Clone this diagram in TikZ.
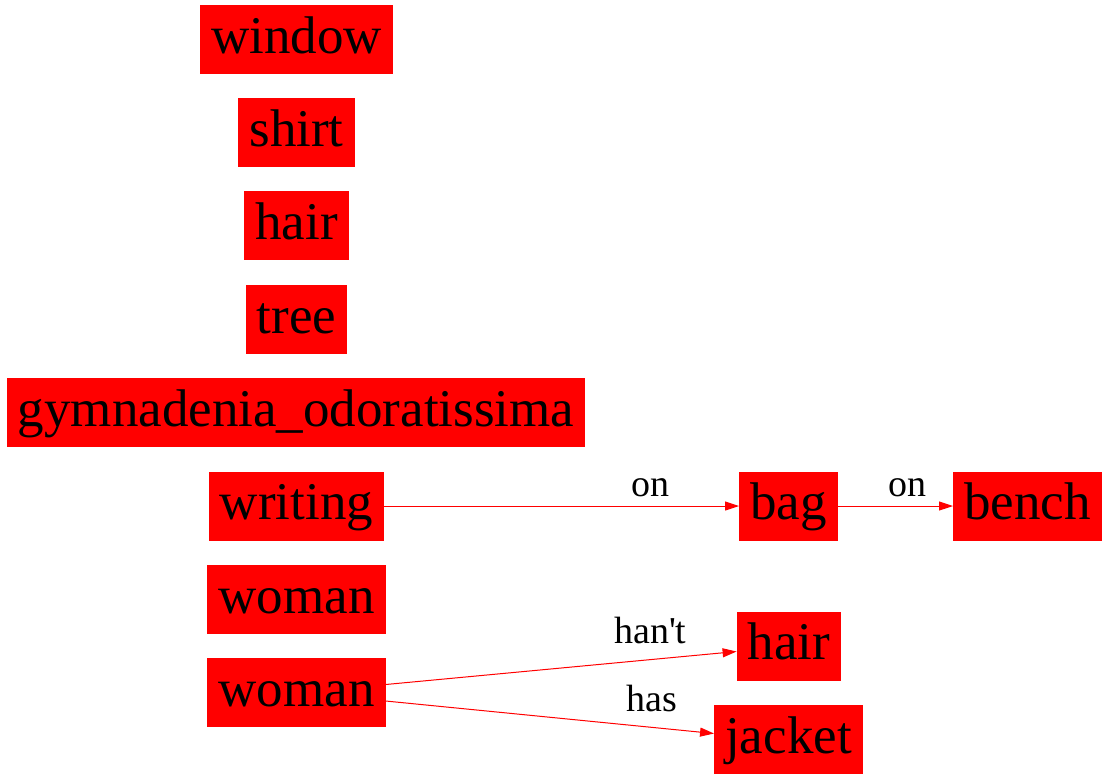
\documentclass[tikz,border=0pt]{standalone}
\usepackage{fontspec}
\setmainfont{Liberation Serif}
\usepackage{tikz}
\usetikzlibrary{positioning,arrows.meta}

\begin{document}
\begin{tikzpicture}[
            x=1pt,y=-1pt,
            obj/.style={rectangle,fill=red,text=black,minimum height=69pt,inner xsep=11pt,inner ysep=0pt,text height=39.7pt,text depth=12.7pt,font=\fontsize{53}{60}\selectfont},
            rel/.style={-{Triangle[length=14pt,width=9pt]},red,line width=1pt},
            lbl/.style={inner sep=1pt,text=black,font=\fontsize{38}{44}\selectfont}]
            \useasboundingbox (0,0) rectangle (1108,780);
            % left column
            \node[obj] (window) at (296.5,39.5) {window};
            \node[obj] (shirt) at (296.5,132.5) {shirt};
            \node[obj] (hairA) at (296.5,225.5) {hair};
            \node[obj] (tree) at (296.5,319.5) {tree};
            \node[obj] (gymna) at (296,412.5) {gymnadenia\_odoratissima};
            \node[obj] (writing) at (296.5,506) {writing};
            \node[obj] (womanA) at (296.5,599.5) {woman};
            \node[obj] (womanB) at (296.5,692.5) {woman};
            % right side
            \node[obj] (bag) at (788.5,506) {bag};
            \node[obj] (bench) at (1027.5,506) {bench};
            \node[obj] (hairB) at (789,646) {hair};
            \node[obj] (jacket) at (788.5,739.5) {jacket};
            \draw[rel] (writing)--(bag) node[lbl,pos=0.75,above=8pt] {on};
            \draw[rel] (bag)--(bench) node[lbl,pos=0.6,above=8pt] {on};
            \draw[rel] ([yshift=8pt]womanB.east)--([yshift=-5.5pt]hairB.west) node[lbl,pos=0.754,above=14pt] {han\textquotesingle t};
            \draw[rel] ([yshift=-8.5pt]womanB.east)--([yshift=6pt]jacket.west) node[lbl,pos=0.81,above=14pt] {has};
        \end{tikzpicture}
\end{document}
